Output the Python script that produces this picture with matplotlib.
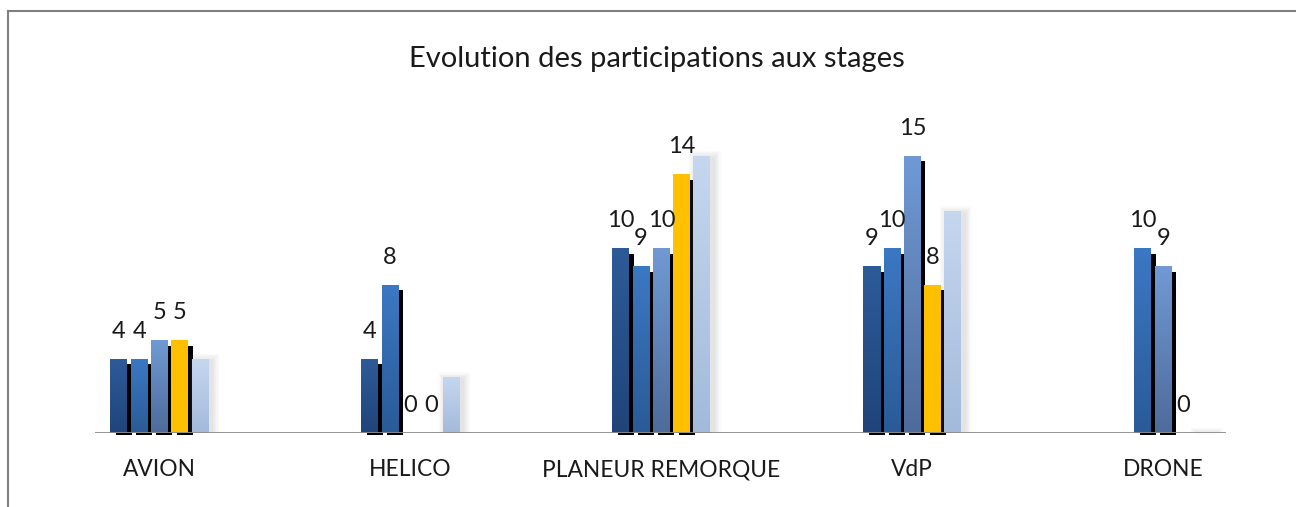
#!/usr/bin/env python
# coding:utf8
"""
Evolution des participations aux stages - histogramme groupé
"""
import numpy as np
import matplotlib
matplotlib.use('Agg')
import matplotlib.pyplot as plt
from matplotlib.patches import Rectangle
from matplotlib.lines import Line2D
from matplotlib.colors import LinearSegmentedColormap

plt.rcParams['font.family'] = ['Lato', 'DejaVu Sans']

# données
categories = ['AVION', 'HELICO', 'PLANEUR REMORQUE', 'VdP', 'DRONE']
serie_1 = [4, 4, 10, 9, np.nan]
serie_2 = [4, 8, 9, 10, 10]
serie_3 = [5, 0, 10, 15, 9]
serie_4 = [5, 0, 14, 8, 0]
serie_5 = [4, 3, 15, 12, 0]

series = [serie_1, serie_2, serie_3, serie_4, serie_5]
# couleurs (haut, bas) du dégradé
colors = [('#2d5b98', '#20447a'),
          ('#3b78c3', '#2a5b97'),
          ('#7099d4', '#4e6b9b'),
          ('#ffc000', '#ffc000'),
          ('#c5d7ef', '#a3badb')]
labelled = [True, True, True, True, False]

W, H = 1296, 507
fig = plt.figure(figsize=(W / 100, H / 100), dpi=100)

# axe en pixels : x de 95 à 1226, ligne de base à y=433 (depuis le haut)
px_unit = 18.45
base_px = H - 433
ax = fig.add_axes([95 / W, base_px / H, (1226 - 95) / W, 18 * px_unit / H])
x_left, x_right = -0.257, 4.25
px_per_x = (1226 - 95) / (x_right - x_left)

bar_w = 17 / px_per_x
step = 20.3 / px_per_x
sh_dx = 5.5 / px_per_x
sh_dy = 5 / px_unit
sh_below = 1.8 / px_unit

x = np.arange(len(categories))
grad = np.linspace(1, 0, 64).reshape(-1, 1)

for i, (vals, (c_top, c_bot)) in enumerate(zip(series, colors)):
    cmap = LinearSegmentedColormap.from_list('c%d' % i, [c_bot, c_top])
    offs = (i - 2) * step
    for j, v in enumerate(vals):
        if np.isnan(v):
            continue
        x0 = x[j] + offs - bar_w / 2
        if labelled[i]:
            if v > 0:
                # ombre noire décalée
                ax.add_patch(Rectangle((x0 + sh_dx, -sh_below), bar_w - 1 / px_per_x,
                                       v - sh_dy + sh_below, color='black',
                                       zorder=1, clip_on=False, lw=0))
            ax.text(x[j] + offs, v + 28 / px_unit, '%d' % v, ha='center', va='center',
                    fontsize=17, color='#1a1a1a', zorder=5)
        else:
            # ombre floue grise
            for k in range(6):
                e = (6 - k) * 1.2
                ax.add_patch(Rectangle((x0 - e / px_per_x + 3 / px_per_x, 0),
                                       bar_w + 2 * e / px_per_x,
                                       v + e / px_unit - 2 / px_unit, color='#808080',
                                       alpha=0.035, zorder=1, lw=0, clip_on=False))
        if v > 0:
            ax.imshow(grad, cmap=cmap, extent=[x0, x0 + bar_w, 0, v],
                      aspect='auto', zorder=2, vmin=0, vmax=1, interpolation='bilinear')

ax.set_xlim(x_left, x_right)
ax.set_ylim(0, 18)
ax.axhline(0, color='#8c8c8c', lw=1.3, zorder=4)
for s in ax.spines.values():
    s.set_visible(False)
ax.set_yticks([])
ax.set_xticks(x)
ax.set_xticklabels(categories, fontsize=16.4, color='#1a1a1a')
ax.tick_params(axis='x', length=0, pad=19)

fig.text(657 / W, 1 - 59 / H, 'Evolution des participations aux stages',
         ha='center', va='center', fontsize=21, color='#1a1a1a')

# cadre
fig.add_artist(Line2D([8 / W, 1], [1 - 11 / H, 1 - 11 / H], color='#808080',
                      lw=1.5, transform=fig.transFigure))
fig.add_artist(Line2D([8 / W, 8 / W], [0, 1 - 11 / H], color='#808080',
                      lw=1.5, transform=fig.transFigure))

fig.savefig('out.png', dpi=100)
